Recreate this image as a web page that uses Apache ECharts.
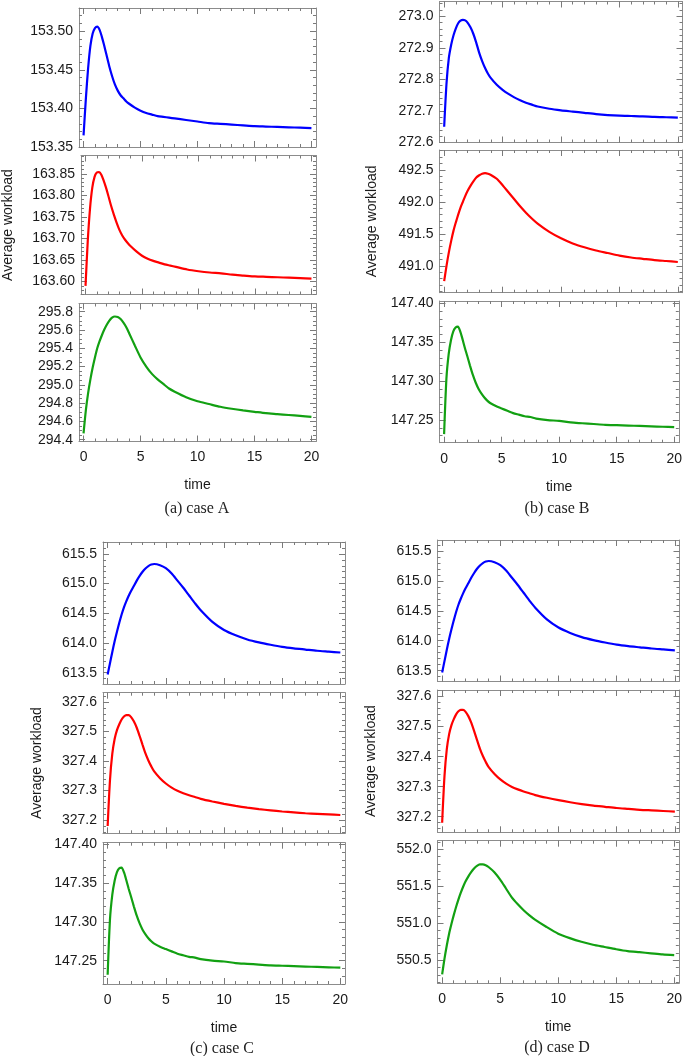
<!DOCTYPE html>
<html><head><meta charset="utf-8">
<script src="https://cdn.jsdelivr.net/npm/echarts@6/dist/echarts.min.js"></script>
<style>html,body{margin:0;padding:0;background:#fff}#c{width:685px;height:1056px}</style>
</head><body><div id="c"></div>
<script>
// ---------------- data ----------------
const time = [0,0.2,0.4,0.6,0.8,1.0,1.2,1.4,1.6,1.8,2.0,2.25,2.5,2.75,3,3.25,3.5,3.75,4,4.5,5,5.5,6,6.5,7,7.5,8,9,10,11,12,13,14,15,16,17,18,19,20];

const caseA_blue  = [153.365,153.412,153.452,153.481,153.497,153.504,153.506,153.502,153.493,153.482,153.470,153.455,153.442,153.431,153.423,153.417,153.413,153.409,153.406,153.401,153.397,153.394,153.392,153.390,153.389,153.388,153.387,153.385,153.383,153.381,153.380,153.379,153.378,153.377,153.3765,153.376,153.3755,153.375,153.3745];
const caseA_red   = [163.590,163.695,163.770,163.818,163.843,163.853,163.854,163.848,163.835,163.819,163.801,163.777,163.756,163.737,163.720,163.707,163.697,163.689,163.682,163.670,163.660,163.653,163.648,163.644,163.640,163.637,163.634,163.628,163.624,163.621,163.619,163.616,163.614,163.612,163.611,163.610,163.609,163.608,163.607];
const caseA_green = [294.47,294.72,294.91,295.06,295.19,295.30,295.40,295.475,295.54,295.60,295.65,295.70,295.735,295.748,295.742,295.72,295.68,295.63,295.565,295.43,295.30,295.20,295.12,295.06,295.01,294.96,294.925,294.865,294.82,294.79,294.76,294.738,294.72,294.705,294.69,294.68,294.67,294.66,294.65];

const caseB_blue  = [272.650,272.787,272.868,272.910,272.940,272.962,272.978,272.986,272.989,272.987,272.980,272.965,272.944,272.916,272.884,272.858,272.836,272.818,272.804,272.783,272.767,272.754,272.743,272.734,272.726,272.720,272.714,272.707,272.702,272.698,272.694,272.690,272.687,272.685,272.684,272.683,272.681,272.680,272.679];
const caseB_red   = [490.76,491.00,491.21,491.39,491.55,491.68,491.80,491.91,492.00,492.09,492.17,492.25,492.32,492.38,492.415,492.44,492.448,492.44,492.42,492.36,492.26,492.15,492.04,491.93,491.83,491.74,491.66,491.53,491.43,491.35,491.29,491.24,491.20,491.16,491.13,491.11,491.09,491.075,491.06];
const caseB_green = [147.232,147.303,147.335,147.353,147.364,147.369,147.370,147.364,147.354,147.343,147.333,147.320,147.308,147.298,147.290,147.284,147.279,147.275,147.272,147.268,147.265,147.262,147.259,147.257,147.255,147.254,147.252,147.250,147.249,147.247,147.246,147.245,147.244,147.2435,147.243,147.2425,147.242,147.2415,147.241];

const caseC_blue  = [613.47,613.66,613.85,614.03,614.19,614.34,614.48,614.60,614.70,614.79,614.87,614.96,615.05,615.13,615.20,615.255,615.295,615.32,615.33,615.31,615.26,615.17,615.05,614.93,614.80,614.67,614.55,614.355,614.22,614.13,614.06,614.01,613.97,613.935,613.91,613.89,613.87,613.855,613.84];
const caseC_red   = [327.180,327.335,327.425,327.475,327.505,327.525,327.541,327.551,327.556,327.556,327.550,327.535,327.513,327.485,327.455,327.426,327.402,327.382,327.365,327.342,327.324,327.310,327.299,327.291,327.284,327.278,327.272,327.263,327.255,327.248,327.242,327.237,327.233,327.229,327.226,327.223,327.221,327.219,327.217];
const caseC_green = [147.232,147.303,147.335,147.353,147.364,147.369,147.370,147.364,147.354,147.343,147.333,147.320,147.308,147.298,147.290,147.284,147.279,147.275,147.272,147.268,147.265,147.262,147.259,147.257,147.255,147.254,147.252,147.250,147.249,147.247,147.246,147.245,147.244,147.2435,147.243,147.2425,147.242,147.2415,147.241];

const caseD_blue  = [613.47,613.66,613.85,614.03,614.19,614.34,614.48,614.60,614.70,614.79,614.87,614.96,615.05,615.13,615.20,615.255,615.295,615.32,615.33,615.31,615.26,615.17,615.05,614.93,614.80,614.67,614.55,614.355,614.22,614.13,614.06,614.01,613.97,613.935,613.91,613.89,613.87,613.855,613.84];
const caseD_red   = [327.180,327.335,327.425,327.475,327.505,327.525,327.541,327.551,327.556,327.556,327.550,327.535,327.513,327.485,327.455,327.426,327.402,327.382,327.365,327.342,327.324,327.310,327.299,327.291,327.284,327.278,327.272,327.263,327.255,327.248,327.242,327.237,327.233,327.229,327.226,327.223,327.221,327.219,327.217];
const caseD_green = [550.31,550.52,550.70,550.86,550.99,551.11,551.22,551.32,551.41,551.49,551.56,551.63,551.69,551.74,551.775,551.795,551.795,551.785,551.76,551.69,551.59,551.47,551.35,551.26,551.18,551.11,551.05,550.95,550.86,550.80,550.75,550.71,550.68,550.65,550.625,550.61,550.595,550.58,550.57];

// tick labels
const xTicks = [0,5,10,15,20];
const yTicksA1 = [153.35,153.40,153.45,153.50];
const yTicksA2 = [163.60,163.65,163.70,163.75,163.80,163.85];
const yTicksA3 = [294.4,294.6,294.8,295.0,295.2,295.4,295.6,295.8];
const yTicksB1 = [272.6,272.7,272.8,272.9,273.0];
const yTicksB2 = [491.0,491.5,492.0,492.5];
const yTicksB3 = [147.25,147.30,147.35,147.40];
const yTicksC1 = [613.5,614.0,614.5,615.0,615.5];
const yTicksC2 = [327.2,327.3,327.4,327.5,327.6];
const yTicksC3 = [147.25,147.30,147.35,147.40];
const yTicksD1 = [613.5,614.0,614.5,615.0,615.5];
const yTicksD2 = [327.2,327.3,327.4,327.5,327.6];
const yTicksD3 = [550.5,551.0,551.5,552.0];

const yAxisTitle = 'Average workload';
const xAxisTitle = 'time';
const captions = ['(a) case A','(b) case B','(c) case C','(d) case D'];

// ---------------- layout / style ----------------
const BLUE='#0000ff', RED='#ff0000', GREEN='#12a012';
const FRAME='#8c8c8c', TICKC='#7a7a7a', TXT='#1a1a1a';
const SANS='"Liberation Sans", Arial, sans-serif';

const panels = [
 {g:[79,8,237,139],     y:[153.35,153.53],   t:yTicksA1, m:0.01, d:2, data:caseA_blue,  c:BLUE},
 {g:[79,155.5,237,139], y:[163.57,163.8925], t:yTicksA2, m:0.01, d:2, data:caseA_red,   c:RED, name:66},
 {g:[79,303.5,237,138], y:[294.38,295.89],   t:yTicksA3, m:0.05, d:1, data:caseA_green, c:GREEN, bottom:true},
 {g:[439.5,1.5,243,141],  y:[272.6,273.047],   t:yTicksB1, m:0.02, d:1, data:caseB_blue,  c:BLUE},
 {g:[439.5,150,243,142.7],y:[490.58,492.81],   t:yTicksB2, m:0.1,  d:1, data:caseB_red,   c:RED, name:60},
 {g:[439.5,301,243,141.7],y:[147.221,147.403], t:yTicksB3, m:0.01, d:2, data:caseB_green, c:GREEN, bottom:true},
 {g:[103,542,242,142],    y:[613.31,615.70],   t:yTicksC1, m:0.1,  d:1, data:caseC_blue,  c:BLUE},
 {g:[103,692.7,242,140.6],y:[327.155,327.632], t:yTicksC2, m:0.02, d:1, data:caseC_red,   c:RED, name:59},
 {g:[103,842.7,242,141.3],y:[147.22,147.402],  t:yTicksC3, m:0.01, d:2, data:caseC_green, c:GREEN, bottom:true},
 {g:[437.5,540,242,141.5],y:[613.32,615.68],   t:yTicksD1, m:0.1,  d:1, data:caseD_blue,  c:BLUE},
 {g:[437.5,690,242,142.3],y:[327.148,327.622], t:yTicksD2, m:0.02, d:1, data:caseD_red,   c:RED, name:59},
 {g:[437.5,840.7,242,142.6],y:[550.19,552.115],t:yTicksD3, m:0.1,  d:1, data:caseD_green, c:GREEN, bottom:true}
];
const captionPos = [[197,509],[557,509],[222,1049],[557,1048]];

function minorList(a,b,step){
  const out=[]; const s=Math.ceil(a/step-1e-9);
  for(let k=s; k*step<=b+1e-9; k++) out.push(+(k*step).toFixed(6));
  return out;
}
const xMinor = minorList(0,20,1);

const grids=[], xAxes=[], yAxes=[], series=[];
panels.forEach((p,i)=>{
  grids.push({left:p.g[0], top:p.g[1], width:p.g[2], height:p.g[3], show:false});
  const xi=xAxes.length, yi=yAxes.length;
  const yMinor = minorList(p.y[0],p.y[1],p.m);
  const bx = {type:'value', gridIndex:i, min:-0.4, max:20.4, splitLine:{show:false},
              axisLine:{show:true, onZero:false, lineStyle:{color:FRAME,width:1}}, axisLabel:{show:false}};
  const by = {type:'value', gridIndex:i, min:p.y[0], max:p.y[1], splitLine:{show:false}, scale:true,
              axisLine:{show:true, onZero:false, lineStyle:{color:FRAME,width:1}}, axisLabel:{show:false}};
  const maj = v=>({show:true, inside:true, length:6, customValues:v, lineStyle:{color:TICKC,width:1}});
  const mnr = v=>({show:true, inside:true, length:3, customValues:v, lineStyle:{color:TICKC,width:1}});
  xAxes.push(Object.assign({}, bx, {position:'bottom', axisTick:maj(xTicks),
    axisLabel:{show:!!p.bottom, customValues:xTicks, margin:9, fontSize:14, fontFamily:SANS, color:TXT},
    name:p.bottom?xAxisTitle:'', nameLocation:'middle', nameGap:37,
    nameTextStyle:{fontSize:14, fontFamily:SANS, color:TXT}}));
  xAxes.push(Object.assign({}, bx, {position:'bottom', axisLine:{show:false,onZero:false}, axisTick:mnr(xMinor)}));
  xAxes.push(Object.assign({}, bx, {position:'top', axisTick:maj(xTicks)}));
  xAxes.push(Object.assign({}, bx, {position:'top', axisLine:{show:false,onZero:false}, axisTick:mnr(xMinor)}));
  yAxes.push(Object.assign({}, by, {position:'left', axisTick:maj(p.t),
    axisLabel:{show:true, customValues:p.t, margin:6, fontSize:14, fontFamily:SANS, color:TXT,
               formatter:v=>Number(v).toFixed(p.d)},
    name:p.name?yAxisTitle:'', nameLocation:'middle', nameGap:p.name||0,
    nameTextStyle:{fontSize:14, fontFamily:SANS, color:TXT}}));
  yAxes.push(Object.assign({}, by, {position:'left', axisLine:{show:false,onZero:false}, axisTick:mnr(yMinor)}));
  yAxes.push(Object.assign({}, by, {position:'right', axisTick:maj(p.t)}));
  yAxes.push(Object.assign({}, by, {position:'right', axisLine:{show:false,onZero:false}, axisTick:mnr(yMinor)}));
  series.push({type:'line', xAxisIndex:xi, yAxisIndex:yi, data:time.map((t,k)=>[t,p.data[k]]),
    showSymbol:false, symbol:'none', smooth:0.25, clip:true,
    lineStyle:{color:p.c, width:2.2}, itemStyle:{color:p.c}, emphasis:{disabled:true}});
});

const graphic = captions.map((txt,k)=>({type:'text', x:captionPos[k][0], y:captionPos[k][1],
  style:{text:txt, align:'center', verticalAlign:'middle', textAlign:'center', textVerticalAlign:'middle',
         font:'16px "Liberation Serif", serif', fontSize:16, fontFamily:'"Liberation Serif", serif', fill:'#222'}}));

const chart = echarts.init(document.getElementById('c'), null, {renderer:'canvas'});
chart.setOption({animation:false, backgroundColor:'#fff', grid:grids, xAxis:xAxes, yAxis:yAxes, series, graphic});
</script></body></html>
